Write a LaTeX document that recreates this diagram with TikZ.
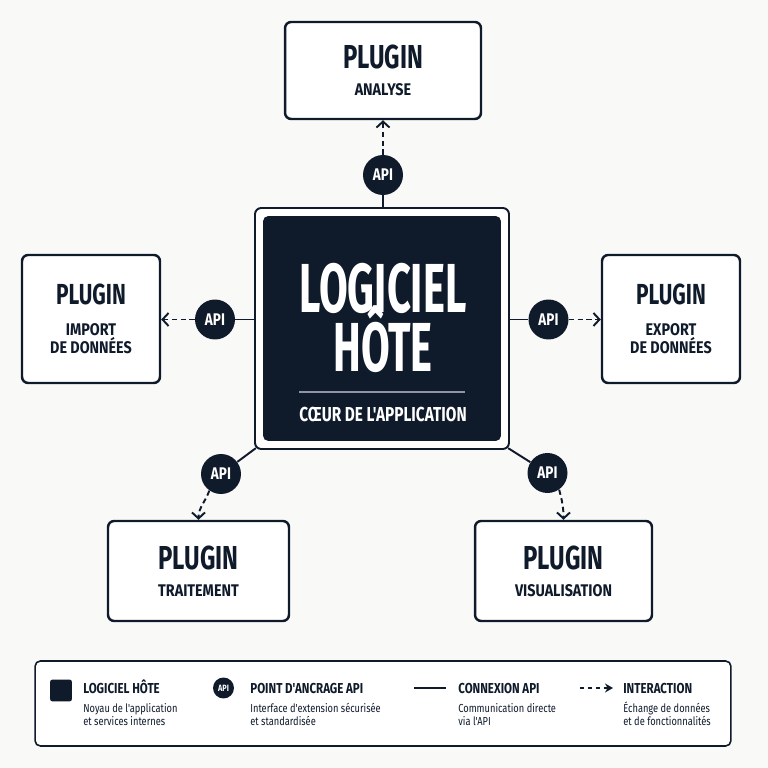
\documentclass[tikz,border=0pt]{standalone}
\usepackage{fontspec}
\setmainfont{Fira Sans}
\newfontfamily\fTitle{Fira Sans}[FakeStretch=0.6]
\newfontfamily\fHead{Fira Sans}[FakeStretch=0.72]
\newfontfamily\fSub{Fira Sans}[FakeStretch=0.85]
\newfontfamily\fCore{Fira Sans}[FakeStretch=0.76]
\newfontfamily\fLeg{Fira Sans}[FakeStretch=0.8]
\newfontfamily\fNote{Fira Sans}[FakeStretch=0.8]
\usetikzlibrary{arrows.meta,positioning,calc}
\definecolor{ink}{HTML}{0F1A2B}
\definecolor{paper}{HTML}{F9F9F8}
\definecolor{rulegray}{HTML}{8E94A2}
\newcommand\plughead[2][18.9]{{\fHead\bfseries\fontsize{#1}{#1}\selectfont #2}}
\newcommand\leghead[1]{{\fLeg\bfseries\fontsize{8.2}{8.2}\selectfont #1}}
\tikzset{
  plugin/.style={draw=ink,line width=1.4pt,fill=white,rounded corners=3.5pt,align=center,inner sep=0pt,text=ink,
    font=\fSub\bfseries\fontsize{9.6}{10.2}\selectfont},
  hostframe/.style={draw=ink,line width=1.1pt,fill=white,rounded corners=3.5pt,inner sep=0pt},
  hostbox/.style={fill=ink,rounded corners=3pt,inner sep=0pt},
  hosttitle/.style={text=white,anchor=base,inner sep=0pt,text depth=0pt,
    font=\fTitle\bfseries\fontsize{39.5}{40}\selectfont},
  hostsub/.style={text=white,inner sep=0pt,font=\fCore\bfseries\fontsize{11.5}{12}\selectfont},
  hostrule/.style={draw=rulegray,line width=0.6pt},
  api/.style={circle,fill=ink,text=white,minimum size=0.8cm,inner sep=0pt,
    font=\fLeg\bfseries\fontsize{9.6}{10}\selectfont},
  link/.style={draw=ink,line width=1.1pt},
  flow/.style={draw=ink,line width=1.1pt,dash pattern=on 3pt off 2pt,
    -{Straight Barb[length=1.2mm,width=2.6mm]}},
  keyflow/.style={draw=ink,line width=1pt,dash pattern=on 2.5pt off 2pt,-{Stealth[length=1.6mm,width=1.8mm]}},
  legendbox/.style={draw=ink,line width=0.9pt,fill=white,rounded corners=3pt,inner sep=0pt},
  legswatch/.style={fill=ink,rounded corners=1.5pt,minimum size=0.44cm,inner sep=0pt},
  legtext/.style={anchor=base west,align=left,inner sep=0pt,text=ink,
    font=\fNote\fontsize{6.6}{7.9}\selectfont}
}
\begin{document}
\begin{tikzpicture}[x=0.02cm,y=0.02cm]
  \fill[paper] (0,0) rectangle (768,768);
  % host application
  \node[hostframe,minimum width=5.08cm,minimum height=4.82cm] (hostframe) at (382,439.5) {};
  \node[hostbox,minimum width=4.76cm,minimum height=4.5cm] (host) at (382,439.5) {};
  \node[hosttitle] (hosttitle) at (383,455) {LOGICIEL};
  \node[hosttitle,text height=31pt] (hosttitleb) at (383,396) {HÔTE};
  \draw[hostrule] ([shift={(-83,-63.5)}]host.center) -- ([shift={(83,-63.5)}]host.center);
  \node[hostsub,anchor=base] (hostsub) at (383,346) {CŒUR DE L'APPLICATION};
  % plugins
  \node[plugin,minimum width=3.92cm,minimum height=1.94cm] (analyse) at (383,697.5) {\plughead{PLUGIN}\\[5.1pt]ANALYSE};
  \node[plugin,minimum width=2.76cm,minimum height=2.56cm] (import) at (91,449) {\plughead[16.5]{PLUGIN}\\[7.4pt]IMPORT\\DE DONNÉES};
  \node[plugin,minimum width=2.76cm,minimum height=2.56cm] (export) at (671,449) {\plughead[16.5]{PLUGIN}\\[7.4pt]EXPORT\\DE DONNÉES};
  \node[plugin,minimum width=3.62cm,minimum height=2cm] (traitement) at (198.5,197) {\plughead{PLUGIN}\\[5.1pt]TRAITEMENT};
  \node[plugin,minimum width=3.54cm,minimum height=2cm] (visualisation) at (563.5,197) {\plughead{PLUGIN}\\[5.1pt]VISUALISATION};
  % API anchor points
  \node[api] (apitop) at (383,593) {API};
  \node[api] (apileft) at (215,448.5) {API};
  \node[api] (apiright) at (548.5,448.5) {API};
  \node[api] (apisw) at (221,294) {API};
  \node[api] (apise) at (547.5,295) {API};
  \draw[link] (apitop |- hostframe.north) -- (apitop);
  \draw[flow] (apitop) -- (apitop |- analyse.south);
  \draw[link] (hostframe.west |- apileft) -- (apileft);
  \draw[flow] (apileft) -- (apileft -| import.east);
  \draw[link] (hostframe.east |- apiright) -- (apiright);
  \draw[flow] (apiright) -- (apiright -| export.west);
  \draw[link] ([shift={(1.8,1.8)}]hostframe.south west) -- (apisw);
  \draw[flow] (apisw.235) to[out=-110,in=90] (traitement.north);
  \draw[link] ([shift={(-1.8,1.8)}]hostframe.south east) -- (apise);
  \draw[flow] (apise.-55) to[out=-75,in=90] (visualisation.north);
  % legend
  \node[legendbox,minimum width=13.92cm,minimum height=1.7cm] (legend) at (383,64.5) {};
  \node[legswatch] (keyhost) at (61,77.5) {};
  \node[legtext] (keyhosttext) at (83,42) {\leghead{LOGICIEL HÔTE}\\[2.8pt]Noyau de l'application\\et services internes};
  \node[api,minimum size=0.42cm,font=\fLeg\bfseries\fontsize{5.2}{5.5}\selectfont] (keyapi) at (223.5,80) {API};
  \node[legtext] (keyapitext) at (250,42) {\leghead{POINT D'ANCRAGE API}\\[2.8pt]Interface d'extension sécurisée\\et standardisée};
  \coordinate (keylinea) at (414,80);
  \coordinate (keylineb) at (446,80);
  \draw[link] (keylinea) -- (keylineb);
  \node[legtext] (keylinktext) at (458,42) {\leghead{CONNEXION API}\\[2.8pt]Communication directe\\via l'API};
  \coordinate (keyflowa) at (580,80);
  \coordinate (keyflowb) at (613,80);
  \draw[keyflow] (keyflowa) -- (keyflowb);
  \node[legtext] (keyflowtext) at (623,42) {\leghead{INTERACTION}\\[2.8pt]Échange de données\\et de fonctionnalités};
\end{tikzpicture}
\end{document}
